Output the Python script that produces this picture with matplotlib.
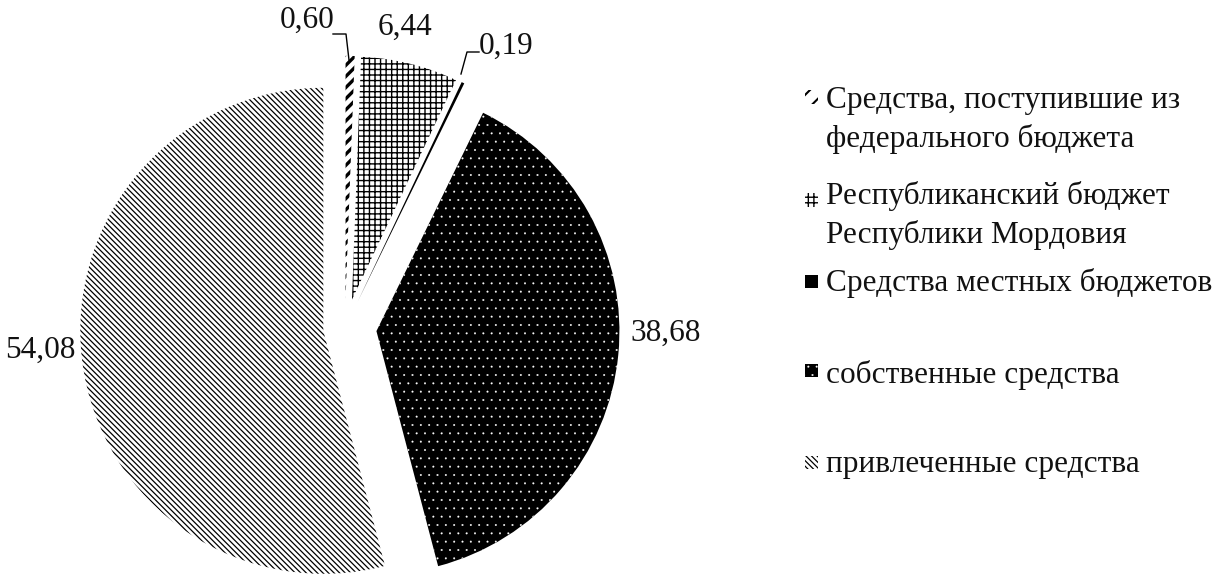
import matplotlib
matplotlib.use("Agg")
import numpy as np
from matplotlib import pyplot as plt
from matplotlib.patches import Rectangle

plt.rcParams['font.family'] = ['Liberation Serif', 'DejaVu Serif']

labels = ["Средства, поступившие из\nфедерального бюджета",
          "Республиканский бюджет\nРеспублики Мордовия",
          "Средства местных бюджетов",
          "собственные средства",
          "привлеченные средства"]
values = [0.60, 6.44, 0.19, 38.68, 54.08]
value_text = ["0,60", "6,44", "0,19", "38,68", "54,08"]

faces = ["white", "white", "black", "black", "white"]
hatch_cols = ["black", "black", "black", "white", "black"]
hatches = ["///", "+++", "", "..", "\\\\\\\\\\\\"]
hatch_lw = [2.4, 1.0, 1.0, 0.2, 0.9]
explode = [0.12, 0.12, 0.12, 0.13, 0.09]

W, H = 1218, 574
CX, CY, R = 345, 328, 243  # pie centre and radius in pixels


def px(x, y):
    # pixel (from top-left) -> data coords of the pie axes
    return (x - CX) / R, (CY - y) / R


fig = plt.figure(figsize=(W / 100, H / 100), dpi=100)
ax = fig.add_axes([0, 0, 1, 1])

wedges, _ = ax.pie(values, startangle=90, counterclock=False, explode=explode,
                   radius=1, wedgeprops=dict(linewidth=0))
for w, fc, hc, h, lw in zip(wedges, faces, hatch_cols, hatches, hatch_lw):
    w.set_facecolor(fc)
    w.set_edgecolor(hc)
    w.set_hatch(h)
    if hasattr(w, "set_hatch_linewidth"):
        w.set_hatch_linewidth(lw)
    if hasattr(w, "set_hatchcolor"):
        w.set_hatchcolor(hc)

ax.set_aspect('auto')
ax.set_xlim(px(0, 0)[0], px(W, 0)[0])
ax.set_ylim(px(0, H)[1], px(0, 0)[1])
ax.axis('off')

# data labels
fs = 22.5
lab_pos = [(307, 20), (405, 27), (506, 46), (666, 333), (40, 350)]
for t, (x, y) in zip(value_text, lab_pos):
    ax.text(*px(x, y), t, fontsize=fs, ha='center', va='center', color='#111111')

# leader lines for the thin slices
for pts in ([(333, 34), (346, 34), (349, 60)], [(479, 52), (467, 52), (461, 74)]):
    xs, ys = zip(*[px(*p) for p in pts])
    ax.plot(xs, ys, color='black', lw=1)

# legend (marker centre / text top, in pixels)
mark_y = [97, 200, 281, 370, 462]
text_y = [86, 181, 268, 360, 450]
for lab, my, ty, fc, hc, h, lw in zip(labels, mark_y, text_y, faces, hatch_cols, hatches, hatch_lw):
    r = Rectangle((805 / W, 1 - (my + 6.5) / H), 13 / W, 13 / H, transform=fig.transFigure,
                  facecolor=fc, edgecolor=hc, hatch=h.replace("///", "//"), linewidth=0)
    if hasattr(r, "set_hatch_linewidth"):
        r.set_hatch_linewidth(min(lw, 1.5))
    fig.patches.append(r)
    fig.text(826 / W, 1 - ty / H, lab, fontsize=fs, ha='left', va='top',
             linespacing=1.41, color='#111111')

fig.savefig("out.png", dpi=100)
